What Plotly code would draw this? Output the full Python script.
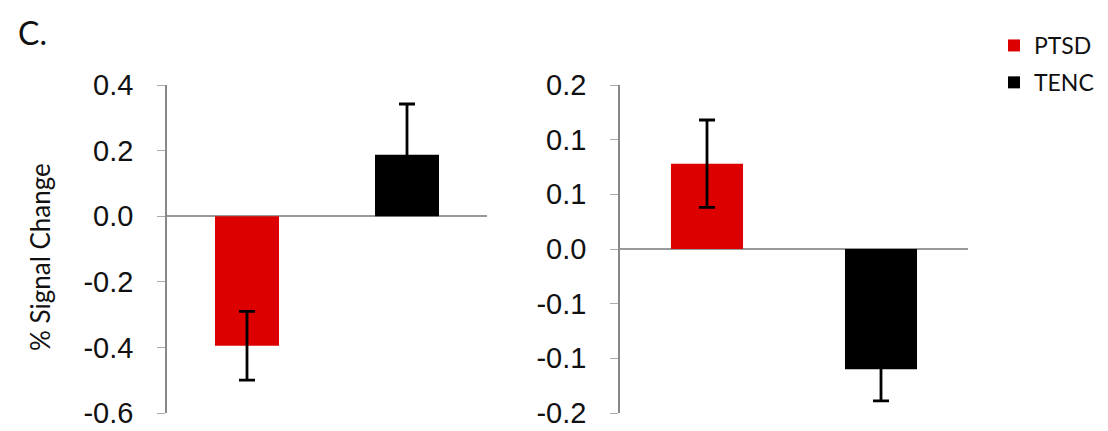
import plotly.graph_objects as go

# ---- data ----
groups = ["PTSD", "TENC"]
group_colors = ["#dd0000", "#000000"]
left_values = [-0.395, 0.187]
left_errors = [0.105, 0.155]
right_values = [0.078, -0.110]
right_errors = [0.040, 0.029]
left_tickvals = [-0.6, -0.4, -0.2, 0.0, 0.2, 0.4]
left_ticktext = ["-0.6", "-0.4", "-0.2", "0.0", "0.2", "0.4"]
right_tickvals = [-0.15, -0.10, -0.05, 0.0, 0.05, 0.10, 0.15]
right_ticktext = ["-0.2", "-0.1", "-0.1", "0.0", "0.1", "0.1", "0.2"]

W, H = 1108, 431
fig = go.Figure()

for i, g in enumerate(groups):
    fig.add_trace(go.Bar(
        x=[g], y=[left_values[i]], width=0.4, name=g,
        marker=dict(color=group_colors[i], line=dict(width=0)),
        error_y=dict(type="data", array=[left_errors[i]], color="#000000",
                     thickness=2.8, width=8),
        xaxis="x", yaxis="y", legendgroup=g, showlegend=True))
for i, g in enumerate(groups):
    fig.add_trace(go.Bar(
        x=[g], y=[right_values[i]], width=0.414, name=g,
        marker=dict(color=group_colors[i], line=dict(width=0)),
        error_y=dict(type="data", array=[right_errors[i]], color="#000000",
                     thickness=2.8, width=8),
        xaxis="x2", yaxis="y2", legendgroup=g, showlegend=False))

tickfont = dict(family="Liberation Sans, Arial, sans-serif", size=29, color="#111111")
common_x = dict(type="category", categoryorder="array", categoryarray=groups,
                range=[-0.5, 1.5], showticklabels=False, showline=False,
                showgrid=False, zeroline=False, ticks="", automargin=False)
common_y = dict(showgrid=False, zeroline=True, zerolinecolor="#999999", zerolinewidth=1.5,
                showline=True, linecolor="#888888", linewidth=1.5,
                ticks="outside", ticklen=8, tickcolor="#aaaaaa", tickwidth=1,
                tickfont=tickfont, ticklabelstandoff=18, automargin=False)

y0, y1 = 1 - 413 / H, 1 - 85 / H
fig.update_layout(
    width=W, height=H,
    margin=dict(l=0, r=0, t=0, b=0, autoexpand=False),
    paper_bgcolor="white", plot_bgcolor="white",
    barmode="overlay",
    xaxis=dict(domain=[167 / W, 487 / W], anchor="y", **common_x),
    xaxis2=dict(domain=[620 / W, 968 / W], anchor="y2", **common_x),
    yaxis=dict(domain=[y0, y1], anchor="x", range=[-0.6, 0.4],
               tickvals=left_tickvals, ticktext=left_ticktext, **common_y),
    yaxis2=dict(domain=[y0, y1], anchor="x2", range=[-0.15, 0.15],
                tickvals=right_tickvals, ticktext=right_ticktext, **common_y),
    legend=dict(x=994 / W, y=1 - 24 / H, xanchor="left", yanchor="top",
                font=dict(family="Lato, sans-serif", size=23, color="#111111"),
                tracegroupgap=4, bgcolor="rgba(0,0,0,0)"),
    annotations=[
        dict(text="C.", x=16 / W, y=1 - 33 / H, xref="paper", yref="paper",
             xanchor="left", yanchor="middle", showarrow=False,
             font=dict(family="Lato, sans-serif", size=32, color="#111111")),
        dict(text="% Signal Change", x=40 / W, y=1 - 257 / H, xref="paper", yref="paper",
             xanchor="center", yanchor="middle", showarrow=False, textangle=-90,
             font=dict(family="Lato, sans-serif", size=26, color="#111111")),
    ],
)

fig.write_html("out.html",
               config={"displayModeBar": False},
               post_script="document.body.style.margin='0';document.body.style.overflow='hidden';")
